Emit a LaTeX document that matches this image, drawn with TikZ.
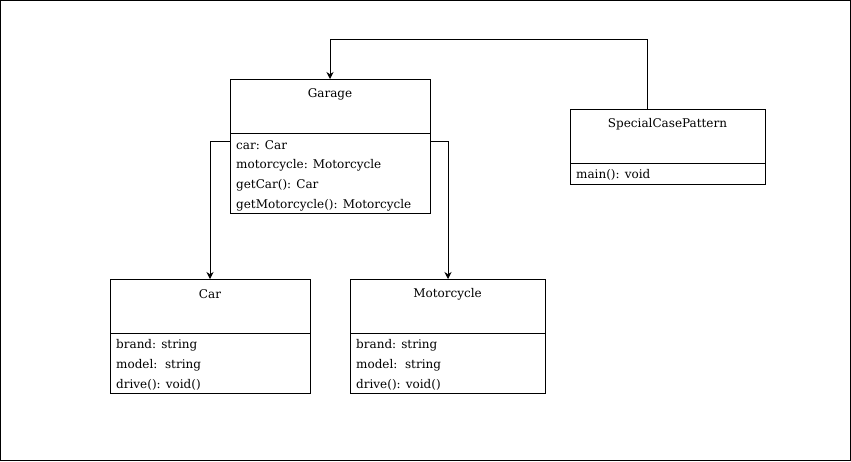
\documentclass[tikz,border=0pt]{standalone}
\usepackage{fontspec}
\setmainfont{DejaVu Serif}
\usetikzlibrary{arrows.meta}
\begin{document}
\begin{tikzpicture}[x=1pt,y=-1pt,
  box/.style={draw=black,line width=0.8pt,inner sep=0pt,anchor=north west},
  title/.style={inner sep=0pt,font=\fontsize{12}{14}\selectfont},
  attr/.style={inner sep=0pt,anchor=west,font=\fontsize{12}{14}\selectfont},
  conn/.style={draw=black,line width=0.8pt,-{Stealth[length=7pt,width=7pt]}},
  plain/.style={draw=black,line width=0.8pt}]
\draw[black,line width=1pt,fill=white] (0.5,0.5) rectangle (850.5,460.5);
\useasboundingbox (0,0) rectangle (851,461);
% Garage
\node[box,minimum width=200pt,minimum height=134pt] (garage) at (230,79) {};
\draw[plain] (230,133) -- (430,133);
\node[title] (gt) at (330,94) {Garage};
\node[attr] (g1) at (236,145) {car: Car};
\node[attr] (g2) at (236,165) {motorcycle: Motorcycle};
\node[attr] (g3) at (236,185) {getCar(): Car};
\node[attr] (g4) at (236,205) {getMotorcycle(): Motorcycle};
% SpecialCasePattern
\node[box,minimum width=195pt,minimum height=75pt] (scp) at (570,109) {};
\draw[plain] (570,163) -- (765,163);
\node[title] (st) at (667.5,124) {SpecialCasePattern};
\node[attr] (s1) at (576,175) {main(): void};
% Car
\node[box,minimum width=200pt,minimum height=114pt] (car) at (110,279) {};
\draw[plain] (110,333) -- (310,333);
\node[title] (ct) at (210,294) {Car};
\node[attr] (c1) at (116,345) {brand: string};
\node[attr] (c2) at (116,365) {model:\ \ string};
\node[attr] (c3) at (116,385) {drive(): void()};
% Motorcycle
\node[box,minimum width=195pt,minimum height=114pt] (moto) at (350,279) {};
\draw[plain] (350,333) -- (545,333);
\node[title] (mt) at (447.5,294) {Motorcycle};
\node[attr] (m1) at (356,345) {brand: string};
\node[attr] (m2) at (356,365) {model:\ \ string};
\node[attr] (m3) at (356,385) {drive(): void()};
% connectors
\coordinate (a1) at (647,109);
\coordinate (ga) at (330,79);
\coordinate (gl) at (230,141);
\coordinate (gr) at (430,141);
\coordinate (ca) at (210,279);
\coordinate (ma) at (448,279);
\draw[conn] (a1) -- (647,39) -- (330,39) -- (ga);
\draw[conn] (gl) -- (210,141) -- (ca);
\draw[conn] (gr) -- (448,141) -- (ma);
\end{tikzpicture}
\end{document}
